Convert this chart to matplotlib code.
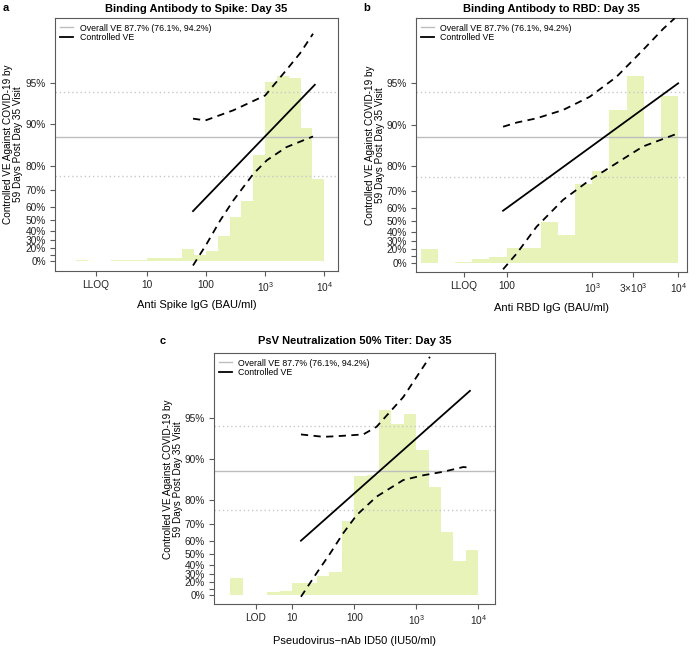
import numpy as np
import matplotlib

matplotlib.use("Agg")
import matplotlib.pyplot as plt

plt.rcParams['font.family'] = ['Liberation Sans', 'DejaVu Sans']
plt.rcParams['mathtext.fontset'] = 'custom'
plt.rcParams['mathtext.rm'] = 'Liberation Sans'
plt.rcParams['mathtext.it'] = 'Liberation Sans:italic'
plt.rcParams['mathtext.bf'] = 'Liberation Sans:bold'

# --- data (x in log10 units, curves on the -log(1-VE) scale) ---
overall_ve = 0.877
overall_lo = 0.761
overall_hi = 0.942

ve_ticks = [0, 0.1, 0.2, 0.3, 0.4, 0.5, 0.6, 0.7, 0.8, 0.9, 0.95]
ve_labels = ['0%', '', '20%', '30%', '40%', '50%', '60%', '70%', '80%', '90%', '95%']

# panel a: spike IgG
a_hist_start = -0.2
a_hist = [0.022, 0, 0, 0.017, 0.017, 0.017, 0.056, 0.056, 0.056, 0.21, 0.11,
          0.169, 0.42, 0.74, 1.02, 1.78, 3.01, 3.125, 3.09, 2.25, 1.38]
a_mid_x = [1.78, 3.84]
a_mid_y = [0.843, 2.97]
a_up_x = [1.78, 1.99, 2.46, 3.0, 3.36, 3.59, 3.81]
a_up_y = [2.40, 2.37, 2.54, 2.79, 3.22, 3.50, 3.83]
a_lo_x = [1.78, 2.01, 2.24, 2.46, 2.80, 3.03, 3.36, 3.81]
a_lo_y = [-0.073, 0.29, 0.686, 1.02, 1.47, 1.70, 1.92, 2.10]
a_ticks = [0.14, 1, 2, 3, 4]
a_ticklabels = ['LLOQ', '10', '100', '$10^3$', '$10^4$']

# panel b: RBD IgG
b_hist_start = 1.0
b_hist = [0.223, 0, 0.005, 0.056, 0.1, 0.24, 0.25, 0.68, 0.46, 1.31, 1.53,
          2.55, 3.12, 2.10, 2.78]
b_mid_x = [1.96, 4.0]
b_mid_y = [0.868, 2.994]
b_up_x = [1.96, 2.12, 2.35, 2.66, 2.97, 3.28, 3.59, 3.83, 3.96]
b_up_y = [2.27, 2.34, 2.41, 2.55, 2.77, 3.10, 3.55, 3.91, 4.08]
b_lo_x = [1.96, 2.12, 2.35, 2.66, 2.97, 3.28, 3.59, 4.0]
b_lo_y = [-0.11, 0.156, 0.60, 1.05, 1.38, 1.66, 1.94, 2.16]
b_ticks = [1.506, 2, 3, np.log10(3000), 4]
b_ticklabels = ['LLOQ', '100', '$10^3$', r'$3{\times}10^3$', '$10^4$']

# panel c: pseudovirus ID50
c_hist_start = 0.0
c_hist = [0.28, 0, 0.005, 0.056, 0.067, 0.21, 0.21, 0.32, 0.38, 1.25, 2.01,
          2.03, 3.13, 2.88, 3.06, 2.45, 1.82, 1.07, 0.58, 0.76]
c_mid_x = [1.14, 3.866]
c_mid_y = [0.916, 3.446]
c_up_x = [1.14, 1.5, 1.715, 2.145, 2.36, 2.575, 2.79, 3.005, 3.22]
c_up_y = [2.71, 2.67, 2.68, 2.71, 2.84, 3.09, 3.34, 3.68, 4.02]
c_lo_x = [1.14, 1.39, 1.61, 1.82, 2.04, 2.36, 2.79, 3.11, 3.435, 3.76, 3.855]
c_lo_y = [-0.03, 0.365, 0.70, 1.04, 1.35, 1.66, 1.94, 2.02, 2.08, 2.16, 2.15]
c_ticks = [0.41, 1, 2, 3, 4]
c_ticklabels = ['LOD', '10', '100', '$10^3$', '$10^4$']

BIN = 0.2
HIST_COLOR = '#e8f3b9'
FRAME = '#5a5a5a'
YLAB = 'Controlled VE Against COVID-19 by\n59 Days Post Day 35 Visit'


def tr(ve):
    return -np.log(1 - np.asarray(ve, dtype=float))


def panel(ax, title, hist_start, hist, mid, up, lo, ticks, ticklabels,
          xlabel, xlim, ylim, title_pad, ylab_x, xlab_y):
    ax.set_xscale('log')
    edges = hist_start + BIN * np.arange(len(hist))
    left = 10 ** edges
    width = 10 ** (edges + BIN) - left
    ax.bar(left, hist, width=width, align='edge', color=HIST_COLOR,
           edgecolor='none', linewidth=0, zorder=1)

    ax.axhline(tr(overall_ve), color='#bdbdbd', lw=1.0, zorder=2)
    for v in (overall_lo, overall_hi):
        ax.axhline(tr(v), color='#c8c8c8', lw=1.0, ls=(0, (1, 2)), zorder=2)

    ax.plot(10 ** np.array(mid[0]), mid[1], color='black', lw=1.3, zorder=3)
    for xs, ys in (up, lo):
        ax.plot(10 ** np.array(xs), ys, color='black', lw=1.3,
                ls=(0, (4, 3)), zorder=3)

    # legend handles only
    ax.plot([], [], color='#bdbdbd', lw=1.0, label='Overall VE 87.7% (76.1%, 94.2%)')
    ax.plot([], [], color='black', lw=1.3, label='Controlled VE')
    ax.legend(loc='upper left', frameon=False, fontsize=6.3, handlelength=1.5,
              handletextpad=0.7, labelspacing=0.1, borderaxespad=0.3,
              borderpad=0.3)

    ax.set_xlim(10 ** xlim[0], 10 ** xlim[1])
    ax.set_ylim(*ylim)
    ax.set_xticks(10 ** np.array(ticks))
    ax.set_xticklabels(ticklabels)
    ax.minorticks_off()
    ax.set_yticks(tr(ve_ticks))
    ax.set_yticklabels(ve_labels)
    ax.tick_params(direction='out', length=3.5, width=0.8, color=FRAME,
                   labelsize=7.3, labelcolor='#222222', pad=3)
    for s in ax.spines.values():
        s.set_color(FRAME)
        s.set_linewidth(0.8)

    ax.set_title(title, fontsize=8, fontweight='bold', pad=title_pad)
    ax.set_xlabel(xlabel, fontsize=8)
    ax.set_ylabel(YLAB, fontsize=7.2, linespacing=1.0)
    ax.yaxis.set_label_coords(ylab_x, 0.5)
    ax.xaxis.set_label_coords(0.5, xlab_y)
    ax.xaxis.label.set_va('top')


fig = plt.figure(figsize=(7.0, 6.46), dpi=100)
fig.patch.set_facecolor('white')

ax_a = fig.add_axes([0.0786, 0.581, 0.4038, 0.3907])
ax_b = fig.add_axes([0.594, 0.5794, 0.387, 0.3923])
ax_c = fig.add_axes([0.3057, 0.0646, 0.4014, 0.3885])

panel(ax_a, 'Binding Antibody to Spike: Day 35', a_hist_start, a_hist,
      (a_mid_x, a_mid_y), (a_up_x, a_up_y), (a_lo_x, a_lo_y),
      a_ticks, a_ticklabels, 'Anti Spike IgG (BAU/ml)',
      (-0.554, 4.227), (-0.16, 4.09), 4.5, -0.112, -0.116)
panel(ax_b, 'Binding Antibody to RBD: Day 35', b_hist_start, b_hist,
      (b_mid_x, b_mid_y), (b_up_x, b_up_y), (b_lo_x, b_lo_y),
      b_ticks, b_ticklabels, 'Anti RBD IgG (BAU/ml)',
      (0.943, 4.10), (-0.15, 4.08), 4.5, -0.115, -0.124)
panel(ax_c, 'PsV Neutralization 50% Titer: Day 35', c_hist_start, c_hist,
      (c_mid_x, c_mid_y), (c_up_x, c_up_y), (c_lo_x, c_lo_y),
      c_ticks, c_ticklabels, 'Pseudovirus\u2212nAb ID50 (IU50/ml)',
      (-0.263, 4.27), (-0.157, 4.08), 6.5, -0.11, -0.126)

fig.text(3 / 700, 1 - 8 / 646, 'a', fontsize=8, fontweight='bold', va='center')
fig.text(363 / 700, 1 - 8 / 646, 'b', fontsize=8, fontweight='bold', va='center')
fig.text(160 / 700, 1 - 341 / 646, 'c', fontsize=8, fontweight='bold', va='center')

fig.savefig('out.png', dpi=100, facecolor='white')
